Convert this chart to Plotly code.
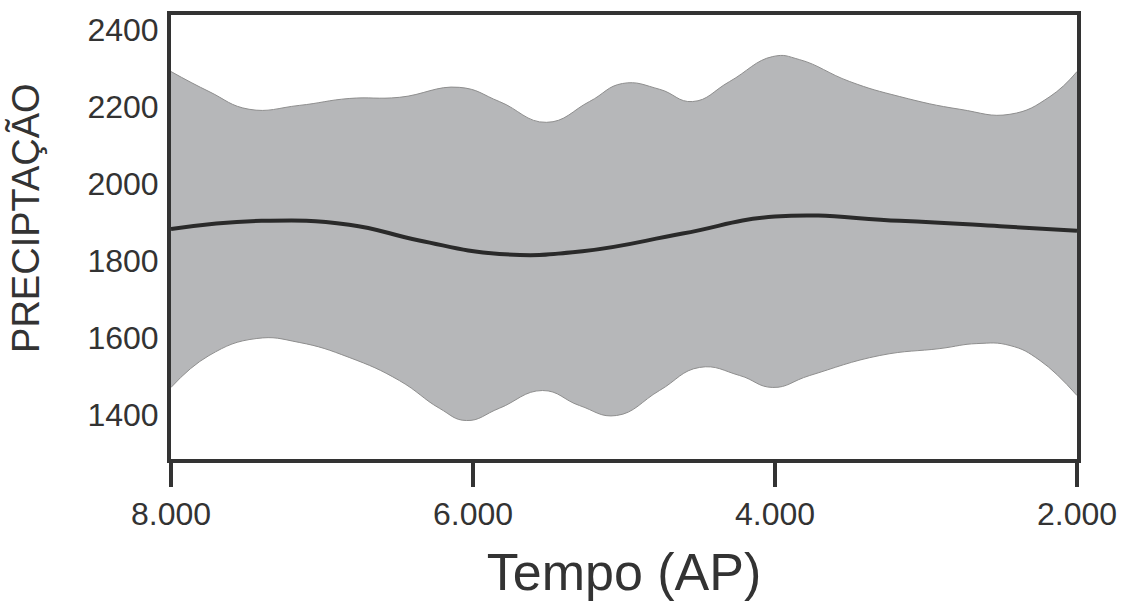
import plotly.graph_objects as go

# Upper envelope
x_upper = [8000, 7748, 7483, 7151, 6820, 6488, 6091, 5825, 5514, 5229, 5010, 4765, 4546, 4301, 4015, 3837, 3505, 3174, 2776, 2444, 2179, 2000]
y_upper = [2291, 2239, 2193, 2203, 2221, 2224, 2250, 2213, 2159, 2213, 2260, 2245, 2213, 2265, 2330, 2322, 2265, 2226, 2193, 2180, 2226, 2291]

# Lower envelope
x_lower = [8000, 7748, 7436, 7151, 6820, 6488, 6223, 6044, 5825, 5540, 5295, 5050, 4765, 4500, 4234, 4015, 3770, 3306, 2908, 2663, 2444, 2245, 2000]
y_lower = [1470, 1553, 1597, 1587, 1548, 1488, 1416, 1384, 1416, 1462, 1423, 1397, 1462, 1522, 1501, 1470, 1501, 1553, 1571, 1584, 1579, 1540, 1449]

# Mean curve
x_mean = [8000, 7400, 6820, 6356, 5825, 5275, 4612, 4000, 3174, 2510, 2000]
y_mean = [1882, 1903, 1893, 1852, 1817, 1824, 1870, 1914, 1903, 1889, 1877]

x_ticks = [8000, 6000, 4000, 2000]
x_ticktext = ["8.000", "6.000", "4.000", "2.000"]
y_ticks = [1400, 1600, 1800, 2000, 2200, 2400]

dark = "#333333"
font_family = "Liberation Sans, Arial, sans-serif"

fig = go.Figure()
fig.add_trace(go.Scatter(x=x_upper, y=y_upper, mode="lines",
                         line=dict(color="#8e8e8e", width=1, shape="spline", smoothing=1.3),
                         hoverinfo="skip", showlegend=False))
fig.add_trace(go.Scatter(x=x_lower, y=y_lower, mode="lines", fill="tonexty",
                         fillcolor="#b6b7b9",
                         line=dict(color="#8e8e8e", width=1, shape="spline", smoothing=1.3),
                         hoverinfo="skip", showlegend=False))
fig.add_trace(go.Scatter(x=x_mean, y=y_mean, mode="lines",
                         line=dict(color="#2a2a2a", width=4, shape="spline", smoothing=1.3),
                         showlegend=False))

fig.update_layout(
    width=1132, height=601,
    margin=dict(l=171, r=55, t=15, b=142, autoexpand=False),
    paper_bgcolor="white", plot_bgcolor="white",
    font=dict(family=font_family, color=dark),
    xaxis=dict(range=[8000, 2000], tickvals=x_ticks, ticktext=x_ticktext,
               showgrid=False, zeroline=False, automargin=False,
               showline=True, mirror=True, linecolor=dark, linewidth=4,
               ticks="outside", ticklen=24, tickwidth=4, tickcolor=dark,
               tickfont=dict(size=32, color=dark),
               title=dict(text="Tempo (AP)", font=dict(size=52, color=dark), standoff=27)),
    yaxis=dict(range=[1284, 2438], tickvals=y_ticks,
               showgrid=False, zeroline=False, automargin=False,
               showline=True, mirror=True, linecolor=dark, linewidth=4,
               ticks="", ticklabelstandoff=2,
               tickfont=dict(size=32, color=dark)),
    annotations=[dict(text="PRECIPTAÇÃO", textangle=-90, xref="paper", yref="paper",
                      x=-0.16, y=0.543, xanchor="center", yanchor="middle",
                      showarrow=False, font=dict(size=38, color=dark))],
)

fig.write_html("out.html")
